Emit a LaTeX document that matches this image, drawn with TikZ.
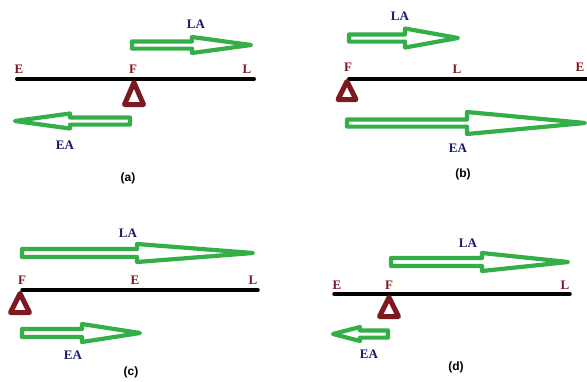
\documentclass[tikz,border=0pt]{standalone}
\usepackage{fontspec}
\setmainfont{Liberation Serif}
\newfontfamily\capfont{Liberation Sans}
\definecolor{armgreen}{RGB}{52,175,72}
\definecolor{fulred}{RGB}{125,25,30}
\definecolor{lblnavy}{RGB}{25,25,110}
\tikzset{
  lever/.style={line width=4pt, line cap=round},
  fulcrum/.style={draw=fulred, line width=5pt, line join=round, fill=white},
  fatarrow/.style={draw=armgreen, line width=4.2pt, line join=round, fill=white},
  ptlbl/.style={text=fulred, font=\bfseries\fontsize{13}{13}\selectfont, inner sep=0pt},
  armlbl/.style={text=lblnavy, font=\bfseries\fontsize{13}{13}\selectfont, inner sep=0pt},
  caplbl/.style={text=black, font=\capfont\bfseries\fontsize{12}{12}\selectfont, inner sep=0pt}
}
% #1 tail x, #2 y, #3 head start x, #4 tip x, #5 head half height, #6 shaft half height
\newcommand{\bigarr}[6]{%
  \draw[fatarrow] (#1,#2-#6) -- (#3,#2-#6) -- (#3,#2-#5) -- (#4,#2) -- (#3,#2+#5) -- (#3,#2+#6) -- (#1,#2+#6) -- cycle;}
\newcommand{\fulc}[4]{% apex x, apex y, half width, base y
  \draw[fulcrum] (#1,#2) -- (#1+#3,#4) -- (#1-#3,#4) -- cycle;}
\begin{document}
\begin{tikzpicture}[x=1pt,y=-1pt]
\useasboundingbox (0,0) rectangle (587,381);
\fill[white] (0,0) rectangle (587,381);
\begin{scope}
\clip (0,0) rectangle (587,381);
% ---------- (a)
\coordinate (aL) at (17,79); \coordinate (aR) at (254,79);
\draw[lever] (aL) -- (aR);
\fulc{134}{82.5}{9.5}{104.5}
\bigarr{132}{45}{192}{251}{8}{3.6}
\bigarr{130}{121}{70}{15}{7.5}{3.6}
\node[ptlbl] (aE) at (19,69) {E};
\node[ptlbl] (aF) at (133,69) {F};
\node[ptlbl] (aLl) at (247,69) {L};
\node[armlbl] (aLA) at (196,24) {LA};
\node[armlbl] (aEA) at (65,145) {EA};
\node[caplbl] (acap) at (128,178) {(a)};
% ---------- (b)
\coordinate (bL) at (349,79); \coordinate (bR) at (592,79);
\draw[lever] (bL) -- (bR);
\fulc{347}{81.5}{9}{99.5}
\bigarr{349}{38}{405}{458}{9.5}{3.6}
\bigarr{347}{123}{467}{585}{11}{3.6}
\node[ptlbl] (bF) at (348,67) {F};
\node[ptlbl] (bLl) at (457,69) {L};
\node[ptlbl] (bE) at (580,67) {E};
\node[armlbl] (bLA) at (400,16) {LA};
\node[armlbl] (bEA) at (458,148) {EA};
\node[caplbl] (bcap) at (463,174) {(b)};
% ---------- (c)
\coordinate (cL) at (22,290); \coordinate (cR) at (258,290);
\draw[lever, line width=3.5pt] (cL) -- (cR);
\fulc{20}{293.5}{9.5}{312.5}
\bigarr{22}{253}{137}{253}{9}{4}
\bigarr{22}{333}{82}{140}{9}{4}
\node[ptlbl] (cF) at (22,280) {F};
\node[ptlbl] (cE) at (135,280) {E};
\node[ptlbl] (cLl) at (253,280) {L};
\node[armlbl] (cLA) at (128,233) {LA};
\node[armlbl] (cEA) at (73,355) {EA};
\node[caplbl] (ccap) at (131,372) {(c)};
% ---------- (d)
\coordinate (dL) at (334,294); \coordinate (dR) at (570,294);
\draw[lever, line width=3.5pt] (dL) -- (dR);
\fulc{389}{297.5}{9.5}{316.5}
\bigarr{391}{262}{482}{568}{9}{4}
\bigarr{388}{334}{360}{333}{7}{3.6}
\node[ptlbl] (dE) at (337,285) {E};
\node[ptlbl] (dF) at (389,285) {F};
\node[ptlbl] (dLl) at (565,285) {L};
\node[armlbl] (dLA) at (468,243) {LA};
\node[armlbl] (dEA) at (369,354) {EA};
\node[caplbl] (dcap) at (456,367) {(d)};
\end{scope}
\end{tikzpicture}
\end{document}
